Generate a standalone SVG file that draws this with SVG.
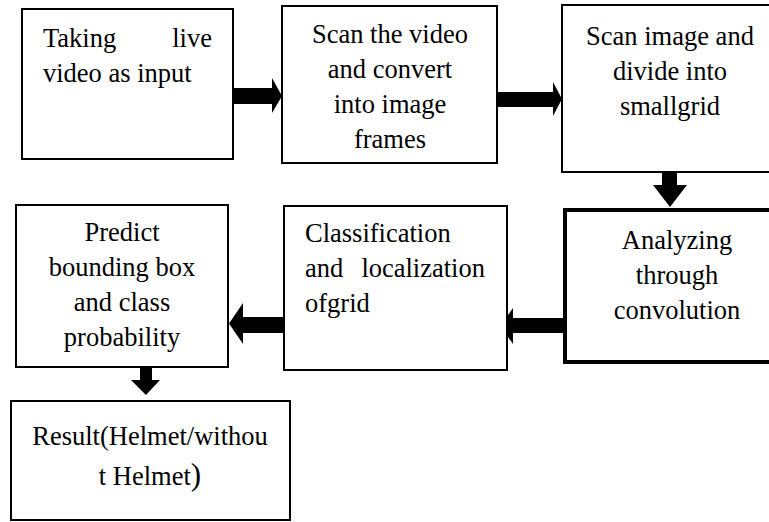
<svg xmlns="http://www.w3.org/2000/svg" width="769" height="522" viewBox="0 0 769 522">
  <style>
    .box { fill: #ffffff; stroke: #000000; stroke-width: 2; }
    .thick { stroke-width: 4; }
    .lbl { font-family: "Liberation Serif", "Times New Roman", serif; font-size: 26.5px; fill: #000000; }
    .mid { text-anchor: middle; }
    .end { text-anchor: end; }
    .arrow { fill: #000000; stroke: none; }
  </style>
  <rect width="769" height="522" fill="#ffffff"/>

  <g id="connectors">
    <polygon class="arrow" points="234,88 272,88 272,78 282,96 272,113 272,104 234,104"/>
    <polygon class="arrow" points="497,92 553,92 553,82 562,99 553,116 553,107 497,107"/>
    <polygon class="arrow" points="662,172 677,172 677,185 687,185 670,207 653,185 662,185"/>
    <polygon class="arrow" points="563,318 513,318 513,308 500,326 513,344 513,333 563,333"/>
    <polygon class="arrow" points="283,317 243,317 243,303 229,323.5 243,344 243,333 283,333"/>
    <polygon class="arrow" points="140,367 152,367 152,380 160,380 146,395 131,380 140,380"/>
  </g>

  <g id="node-input">
    <rect class="box" x="22" y="9" width="211" height="150"/>
    <text class="lbl" x="43" y="47">Taking</text>
    <text class="lbl end" x="212" y="47">live</text>
    <text class="lbl" x="43" y="82">video as input</text>
  </g>

  <g id="node-frames">
    <rect class="box" x="282" y="6" width="215" height="157"/>
    <text class="lbl mid" x="390" y="43">Scan the video</text>
    <text class="lbl mid" x="390" y="78">and convert</text>
    <text class="lbl mid" x="390" y="113">into image</text>
    <text class="lbl mid" x="390" y="148">frames</text>
  </g>

  <g id="node-grid">
    <rect class="box" x="562" y="5" width="220" height="167"/>
    <text class="lbl mid" x="670" y="45">Scan image and</text>
    <text class="lbl mid" x="670" y="80">divide into</text>
    <text class="lbl mid" x="670" y="115">smallgrid</text>
  </g>

  <g id="node-convolution">
    <rect class="box thick" x="565" y="210" width="225" height="152"/>
    <text class="lbl mid" x="677" y="249">Analyzing</text>
    <text class="lbl mid" x="677" y="284">through</text>
    <text class="lbl mid" x="677" y="319">convolution</text>
  </g>

  <g id="node-classification">
    <rect class="box" x="284" y="206" width="223" height="164"/>
    <text class="lbl" x="305" y="242">Classification</text>
    <text class="lbl" x="305" y="277">and</text>
    <text class="lbl end" x="485" y="277">localization</text>
    <text class="lbl" x="305" y="312">ofgrid</text>
  </g>

  <g id="node-predict">
    <rect class="box" x="16" y="205" width="212" height="162"/>
    <text class="lbl mid" x="122" y="241">Predict</text>
    <text class="lbl mid" x="122" y="276">bounding box</text>
    <text class="lbl mid" x="122" y="311">and class</text>
    <text class="lbl mid" x="122" y="346">probability</text>
  </g>

  <g id="node-result">
    <rect class="box" x="11" y="401" width="279" height="119"/>
    <text class="lbl mid" x="150" y="445">Result(Helmet/withou</text>
    <text class="lbl mid" x="150" y="485">t Helmet<tspan font-size="31">)</tspan></text>
  </g>
</svg>
